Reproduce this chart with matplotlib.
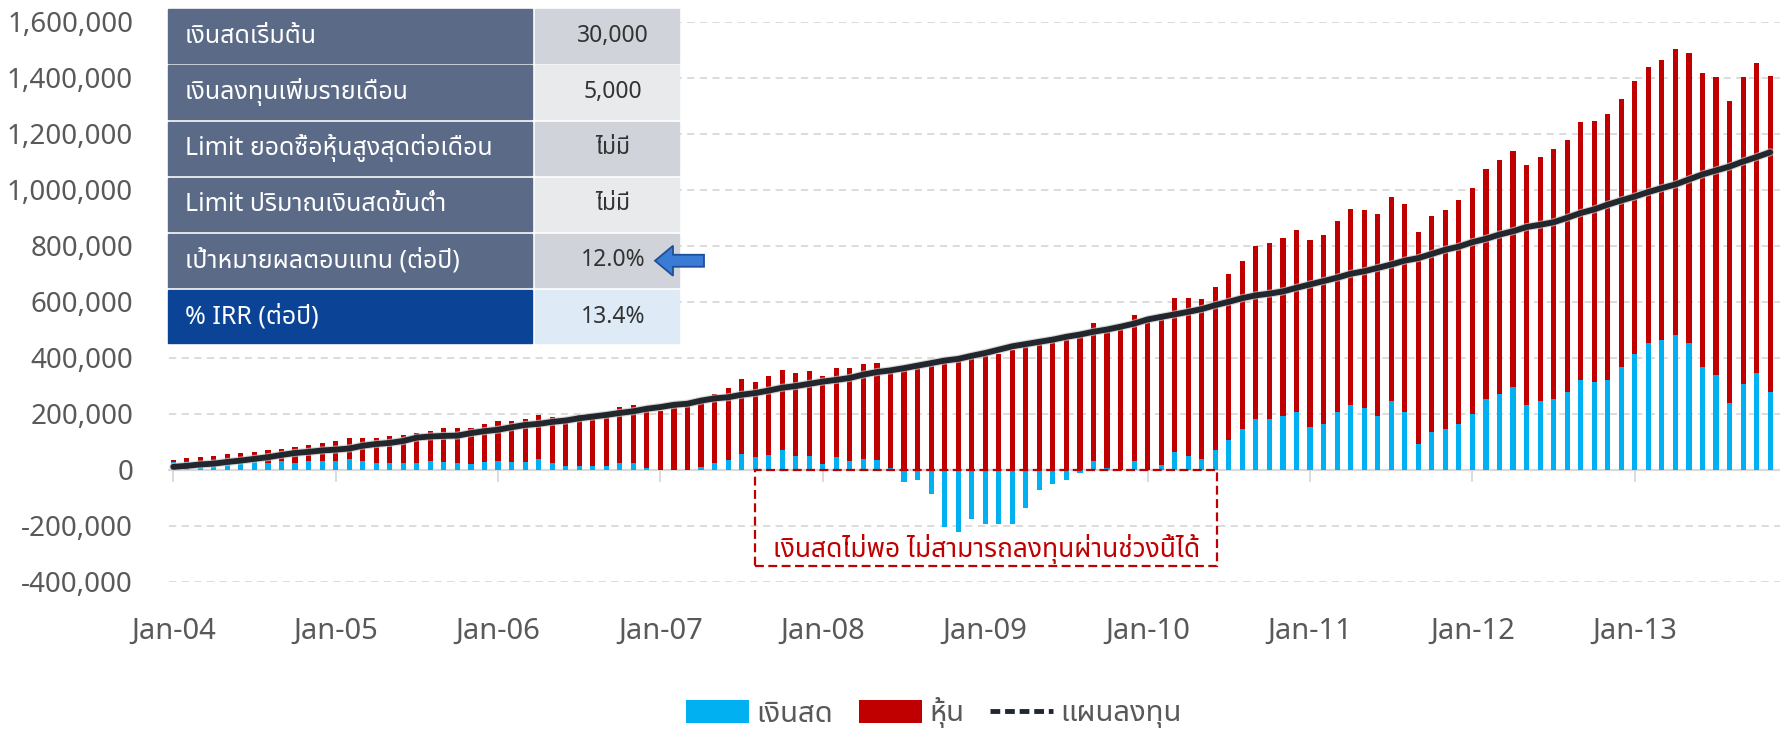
import numpy as np
import matplotlib
matplotlib.use("Agg")
import matplotlib.pyplot as plt
from matplotlib import font_manager, patheffects
from matplotlib.ft2font import FT2Font
from matplotlib.patches import Rectangle, Polygon, Patch
from matplotlib.lines import Line2D
from matplotlib.ticker import FuncFormatter

# monthly values (thousand baht), Jan-04 .. Nov-13
cash_k = [27, 27, 19, 19, 19, 24, 27, 24, 30, 24, 30, 30, 30, 36, 30, 25, 25, 25, 25, 30,
          26, 23, 18, 27, 32, 27, 27, 37, 23, 13, 13, 13, 13, 23, 23, 5, 0, 0, 0, 8,
          23, 33, 57, 43, 52, 71, 48, 48, 19, 43, 29, 38, 33, 5, -43, -38, -86, -204, -223, -175,
          -194, -196, -196, -136, -74, -50, -36, -12, 30, 7, 0, 30, 0, 15, 63, 49, 36, 68, 106, 144,
          182, 181, 190, 205, 151, 162, 205, 232, 219, 190, 246, 205, 90, 133, 143, 162, 200, 251, 270, 294,
          229, 243, 252, 276, 321, 314, 321, 365, 413, 451, 461, 480, 451, 365, 338, 238, 305, 343, 276]
stock_k = [7, 13, 26, 31, 36, 34, 37, 45, 44, 55, 57, 63, 71, 76, 82, 87, 95, 100, 105, 109,
           122, 125, 130, 134, 143, 148, 153, 157, 166, 172, 180, 185, 189, 200, 209, 203, 208, 229, 232, 242,
           246, 257, 267, 271, 281, 285, 295, 304, 314, 319, 333, 338, 348, 343, 354, 362, 371, 383, 389, 399,
           407, 414, 426, 438, 448, 456, 464, 476, 494, 488, 502, 522, 527, 542, 551, 565, 574, 584, 593, 602,
           617, 627, 637, 651, 667, 675, 684, 700, 708, 723, 729, 744, 760, 771, 784, 799, 807, 823, 837, 845,
           859, 873, 893, 901, 919, 931, 948, 960, 974, 988, 1002, 1021, 1036, 1051, 1063, 1078, 1096, 1109, 1130]
plan_k = [9.5, 13, 18, 21, 27, 32, 38, 44, 52, 59, 63, 68, 71, 75, 85, 91, 95, 102, 114, 118,
          120, 121, 130, 137, 142, 151, 159, 163, 170, 175, 183, 189, 195, 202, 208, 217, 223, 231, 235, 246,
          254, 258, 267, 273, 282, 292, 298, 306, 314, 320, 327, 339, 348, 354, 362, 371, 380, 389, 395, 406,
          416, 428, 440, 448, 456, 464, 474, 482, 492, 500, 510, 521, 536, 545, 554, 563, 573, 587, 599, 612,
          622, 628, 636, 649, 661, 673, 685, 699, 708, 720, 732, 746, 755, 770, 785, 796, 812, 824, 839, 851,
          866, 874, 883, 899, 916, 929, 946, 961, 975, 991, 1005, 1018, 1036, 1054, 1068, 1082, 1100, 1116, 1133]

year_labels = ["Jan-04", "Jan-05", "Jan-06", "Jan-07", "Jan-08",
               "Jan-09", "Jan-10", "Jan-11", "Jan-12", "Jan-13"]
legend_labels = ["เงินสด", "หุ้น", "แผนลงทุน"]

table_labels = ["เงินสดเริ่มต้น", "เงินลงทุนเพิ่มรายเดือน", "Limit ยอดซื้อหุ้นสูงสุดต่อเดือน",
                "Limit ปริมาณเงินสดขั้นต่ำ", "เป้าหมายผลตอบแทน (ต่อปี)", "% IRR (ต่อปี)"]
table_values = ["30,000", "5,000", "ไม่มี", "ไม่มี", "12.0%", "13.4%"]
note_text = "เงินสดไม่พอ ไม่สามารถลงทุนผ่านช่วงนี้ได้"

BLUE = "#00b0f0"
RED = "#c00000"
LINE = "#22262d"
GREY_TXT = "#595959"
GRID = "#d9d9d9"


def find_thai_family():
    preferred = ["Noto Sans Thai", "Noto Sans Thai UI", "Leelawadee UI", "Tahoma", "Loma",
                 "Garuda", "Sawasdee", "Umpush", "Waree", "Kinnari", "Norasi",
                 "Noto Sans Thai Looped", "Noto Serif Thai"]
    names = {f.name for f in font_manager.fontManager.ttflist}
    for p in preferred:
        if p in names:
            return p
    for f in font_manager.fontManager.ttflist:
        try:
            if 0x0E01 in FT2Font(f.fname).get_charmap():
                return f.name
        except Exception:
            pass
    return None


thai = find_thai_family()
families = [thai, "DejaVu Sans"] if thai else ["DejaVu Sans"]
plt.rcParams["font.family"] = families

W, H = 1781, 730


def fx(px):
    return px / W


def fy(py):
    return 1 - py / H


fig = plt.figure(figsize=(W / 100, H / 100), dpi=100)
ax = fig.add_axes([fx(169.2), fy(581.5), 1 - fx(169.2), (581.5 - 21.5) / H])

x = np.arange(len(cash_k))
cash = np.array(cash_k) * 1000.0
stock = np.array(stock_k) * 1000.0
plan = np.array(plan_k) * 1000.0

ax.bar(x, cash, width=0.38, color=BLUE, zorder=2)
ax.bar(x, stock, bottom=np.clip(cash, 0, None), width=0.38, color=RED, zorder=2)
ax.plot(x, plan, color=LINE, lw=4.2, zorder=3, solid_capstyle="round",
        path_effects=[patheffects.Stroke(linewidth=5.8, foreground="#c8c8c8", alpha=0.7),
                      patheffects.Normal()])

ax.set_xlim(-0.3, 118.8)
ax.set_ylim(-400000, 1600000)
ax.set_yticks(np.arange(-400000, 1600001, 200000))
ax.yaxis.set_major_formatter(FuncFormatter(lambda v, p: f"{v:,.0f}"))
ax.grid(axis="y", color=GRID, ls=(0, (4, 3)), lw=1.3, zorder=0)
ax.set_axisbelow(True)

for s in ["top", "right", "left"]:
    ax.spines[s].set_visible(False)
ax.spines["bottom"].set_position(("data", 0))
ax.spines["bottom"].set_color(GRID)
ax.spines["bottom"].set_linewidth(1.6)
ax.spines["bottom"].set_zorder(1)

ax.set_xticks(np.arange(len(year_labels)) * 12)
ax.set_xticklabels(year_labels)
ax.tick_params(axis="x", direction="out", length=8.8, width=1.3, color=GRID,
               pad=97, labelsize=21, labelcolor=GREY_TXT)
ax.tick_params(axis="y", length=0, pad=26, labelsize=20, labelcolor=GREY_TXT)

# red dashed note box
ax.add_patch(Rectangle((43.0, -344000), 34.15, 344000, fill=False, ec=RED, lw=1.6,
                       ls=(0, (4, 2)), zorder=4))
ax.text(60.1, -283000, note_text, color=RED, fontsize=19, ha="center", va="center",
        fontweight="bold", zorder=5)

# parameter table on top of the chart
left_bg = ["#5a6a87"] * 5 + ["#0b4497"]
right_bg = ["#d0d3d9", "#e9eaec", "#d0d3d9", "#e9eaec", "#d0d3d9", "#deeaf6"]
row_top, row_h, row_pitch = 9.3, 53.5, 56.1
for i, (lab, val) in enumerate(zip(table_labels, table_values)):
    top = row_top + i * row_pitch
    fig.add_artist(Rectangle((fx(168), fy(top + row_h)), fx(531.5) - fx(168), row_h / H,
                             transform=fig.transFigure, color=left_bg[i], zorder=5))
    fig.add_artist(Rectangle((fx(535), fy(top + row_h)), fx(679) - fx(535), row_h / H,
                             transform=fig.transFigure, color=right_bg[i], zorder=5))
    fig.text(fx(185), fy(top + row_h / 2), lab, color="white", fontsize=18,
             ha="left", va="center", zorder=6)
    fig.text(fx(613), fy(top + row_h / 2), val, color="#333333", fontsize=16.5,
             ha="center", va="center", zorder=6)

# blue arrow pointing at the target return
ay = 234 + row_h / 2
arrow = [(655, ay), (673, ay - 15), (673, ay - 6), (704, ay - 6),
         (704, ay + 6), (673, ay + 6), (673, ay + 15)]
fig.add_artist(Polygon([(fx(px), fy(py)) for px, py in arrow], closed=True,
                       transform=fig.transFigure, fc="#3a7bd5", ec="#1f4f99", lw=1.3, zorder=6))

handles = [Patch(facecolor=BLUE), Patch(facecolor=RED),
           Line2D([], [], color=LINE, lw=3.5, ls=(0, (2, 1)))]
fig.legend(handles, legend_labels, loc="center", bbox_to_anchor=(fx(934), fy(713)),
           ncol=3, frameon=False, fontsize=21, labelcolor=GREY_TXT,
           handlelength=2.15, handleheight=0.8, handletextpad=0.25, columnspacing=0.9)

fig.savefig("out.png", dpi=100)
